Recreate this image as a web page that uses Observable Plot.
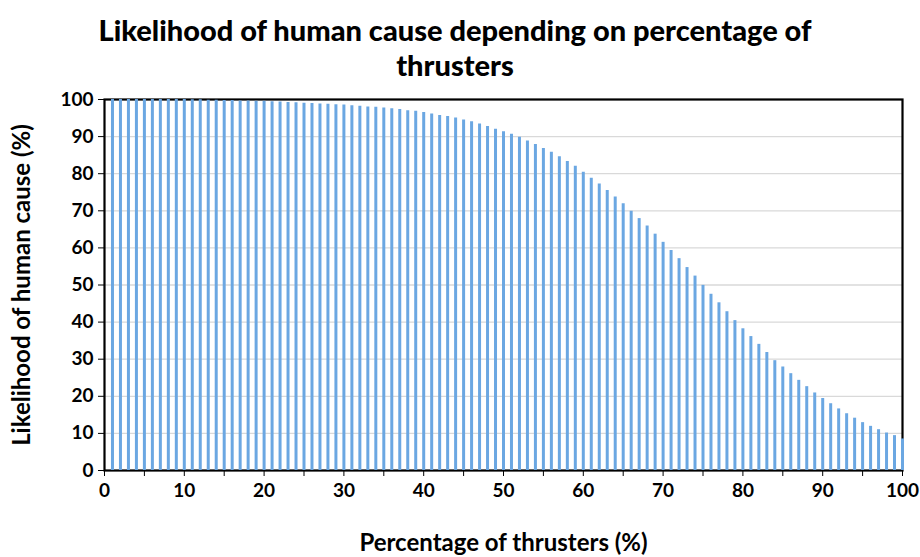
<!DOCTYPE html>
<html>
<head>
<meta charset="utf-8">
<script src="https://cdn.jsdelivr.net/npm/d3@7"></script>
<script src="https://cdn.jsdelivr.net/npm/@observablehq/plot@0.6"></script>
<style>
  body { margin: 0; background: #fff; font-family: Lato, "Open Sans", sans-serif; }
  #title { width: 920px; height: 84px; text-align: center; font-weight: 900; font-size: 29px; line-height: 35px; padding-top: 12px; box-sizing: border-box; color: #000; padding-right: 10px; }
</style>
</head>
<body>
<div id="title">Likelihood of human cause depending on percentage of<br>thrusters</div>
<div id="chart"></div>
<script>
const percentages = d3.range(1, 101);
const likelihood = [
  100, 100, 100, 100, 100, 100, 100, 100, 100, 100,
  99.9, 99.9, 99.8, 99.8, 99.7, 99.7, 99.6, 99.6, 99.5, 99.5,
  99.4, 99.3, 99.2, 99.1, 99.0, 98.9, 98.8, 98.7, 98.6, 98.5,
  98.3, 98.2, 98.0, 97.9, 97.7, 97.5, 97.3, 97.0, 96.8, 96.5,
  96.1, 95.7, 95.4, 95.0, 94.5, 94.0, 93.4, 92.7, 92.0, 91.3,
  90.6, 89.8, 88.8, 87.9, 86.8, 85.8, 84.6, 83.3, 82.0, 80.4,
  78.8, 77.2, 75.5, 73.7, 71.9, 69.9, 67.9, 65.9, 63.7, 61.5,
  59.3, 57.1, 54.7, 52.4, 49.9, 47.5, 45.2, 42.8, 40.4, 38.2,
  36.1, 34.0, 31.8, 29.6, 27.9, 26.1, 24.3, 22.6, 20.9, 19.4,
  18.0, 16.6, 15.3, 14.1, 12.9, 11.9, 11.0, 10.1, 9.4, 8.5
];
const yTicks = d3.range(0, 101, 10);
const xTicks = d3.range(0, 101, 5);
const xTitle = "Percentage of thrusters (%)";
const yTitle = "Likelihood of human cause (%)";

const data = percentages.map((p, i) => ({pct: p, val: likelihood[i]}));

const chart = Plot.plot({
  width: 920,
  height: 473,
  marginTop: 15,
  marginBottom: 87,
  marginLeft: 104,
  marginRight: 18,
  style: {fontFamily: "Lato, 'Open Sans', sans-serif", fontWeight: "bold", color: "#000", background: "#fff"},
  x: {domain: [0, 100]},
  y: {domain: [0, 100]},
  marks: [
    Plot.gridY(yTicks, {stroke: "#d9d9d9", strokeOpacity: 1, strokeWidth: 1.3}),
    Plot.axisY({ticks: yTicks, tickSize: 6, tickPadding: 5, fontSize: 19, fontWeight: "bold",
      label: yTitle, labelAnchor: "center", labelArrow: "none", labelOffset: 92}),
    Plot.axisX({ticks: xTicks, tickSize: 6, tickPadding: 7, fontSize: 19, fontWeight: "bold",
      tickFormat: d => d % 10 === 0 ? String(d) : "",
      label: xTitle, labelAnchor: "center", labelArrow: "none", labelOffset: 80}),
    Plot.frame({stroke: "#000", strokeWidth: 2.2}),
    Plot.ruleX(data, {x: "pct", y1: 0, y2: "val", stroke: "#6ba7e2", strokeWidth: 3})
  ]
});
chart.querySelectorAll("g[aria-label='y-axis label'] text, g[aria-label='x-axis label'] text").forEach(t => {
  t.setAttribute("font-size", "24");
  t.style.fontSize = "24px";
});
document.getElementById("chart").appendChild(chart);
</script>
</body>
</html>
